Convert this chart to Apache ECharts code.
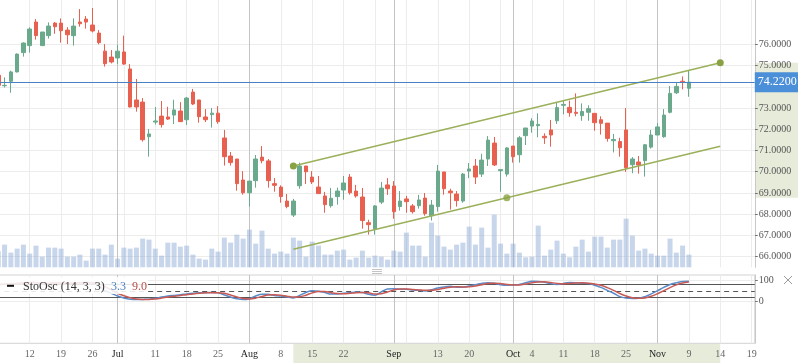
<!DOCTYPE html>
<html><head><meta charset="utf-8">
<script src="https://cdn.jsdelivr.net/npm/echarts@6/dist/echarts.min.js"></script>
<style>html,body{margin:0;padding:0;background:#fff}#c{width:798px;height:363px}</style>
</head><body><div id="c"></div>
<script>
// ---- data (trading-day slots; slot 0 = Monday "12") ----
const slotFirst = -5, slotLast = 115;
const open  = [74.54,74.05,74.26,74.70,75.61,75.94,77.05,75.94,76.41,77.00,77.00,76.67,76.41,77.05,77.19,76.91,76.53,75.68,75.40,75.36,75.64,74.84,73.38,73.28,71.65,72.34,72.62,72.58,72.67,72.86,72.45,73.75,73.38,72.58,72.69,72.76,71.59,70.74,70.60,69.61,69.01,69.58,70.69,70.51,69.44,69.28,68.62,67.96,69.34,70.27,69.75,69.28,68.86,68.40,68.83,69.14,69.75,69.09,68.81,67.60,67.30,68.57,69.38,69.33,68.36,68.72,68.39,68.40,68.76,67.93,68.36,69.99,69.09,68.95,68.62,70.03,70.27,69.89,70.60,71.35,70.05,69.89,71.21,70.80,71.70,72.15,72.17,71.67,71.97,72.40,73.13,73.03,72.80,72.64,72.80,72.75,72.45,72.29,71.46,71.42,71.97,70.33,70.46,70.52,71.16,71.73,71.65,72.80,73.72,74.26,73.93];
const close = [74.07,74.07,74.70,75.54,76.06,76.72,76.41,76.58,76.86,76.83,76.64,76.45,76.86,76.97,77.05,76.63,76.08,75.09,75.17,75.68,75.07,73.05,73.05,71.51,71.78,72.39,72.22,72.48,72.91,72.36,73.47,73.19,72.59,72.45,72.76,72.36,70.71,70.43,69.44,69.01,69.56,70.60,70.52,69.58,69.36,68.83,68.36,68.62,70.27,70.00,69.52,68.97,68.45,68.75,69.09,69.47,69.01,68.86,67.70,67.51,68.39,69.23,69.20,68.12,68.62,68.59,68.12,68.67,68.03,68.43,70.03,69.20,69.01,68.64,69.89,70.13,69.75,70.55,71.49,70.32,70.10,71.12,70.71,71.60,72.06,72.39,72.23,71.60,71.73,73.02,73.17,72.78,72.75,72.84,72.97,72.31,72.28,71.57,71.52,71.13,70.19,70.60,70.32,71.27,71.73,72.11,72.67,73.69,74.02,74.21,74.22];
const low   = [74.00,73.97,73.72,74.68,75.42,75.61,76.22,75.94,76.27,76.50,76.08,76.01,75.94,76.83,76.74,76.56,76.00,74.95,75.10,75.07,75.04,73.03,72.83,71.42,70.71,72.22,72.08,72.44,72.25,72.34,72.20,73.14,72.31,72.34,72.08,72.26,70.29,70.29,69.11,68.92,68.36,69.25,70.40,69.25,69.06,68.54,68.28,67.87,69.20,69.42,69.42,68.97,68.07,68.31,68.45,68.68,68.92,68.78,67.32,67.04,67.04,68.48,68.91,67.79,68.17,68.07,68.03,68.26,67.93,67.70,68.12,68.92,68.22,68.36,68.54,69.70,69.42,69.75,70.27,70.27,69.06,69.77,70.43,70.43,71.26,71.84,71.62,71.31,71.18,72.25,72.70,72.59,72.61,72.40,72.40,71.93,71.75,71.42,70.91,70.71,69.99,69.93,69.91,69.77,71.09,71.73,71.60,72.75,73.66,73.88,73.53];
const high  = [74.60,74.44,74.76,75.57,76.09,76.80,77.19,76.58,77.03,77.05,77.22,76.81,77.22,77.66,77.33,77.71,76.67,76.01,75.73,75.97,76.41,75.07,74.37,73.47,72.01,73.05,73.33,73.06,73.39,73.28,73.52,73.90,73.38,72.95,73.00,73.09,71.97,70.93,70.60,70.03,69.56,70.79,71.21,70.60,69.70,69.36,68.95,68.72,70.43,70.27,70.03,69.80,69.05,69.24,69.25,69.80,69.89,69.38,69.24,67.74,68.43,69.52,69.70,69.56,69.09,68.86,68.48,68.91,69.00,68.67,70.32,69.99,69.20,69.09,69.94,70.41,70.60,70.85,71.68,71.64,70.13,71.16,71.21,71.68,72.06,72.52,72.75,71.81,72.44,73.28,73.35,73.35,73.69,73.22,73.13,72.75,72.61,72.29,71.78,71.60,73.00,70.69,70.74,71.31,71.97,72.29,72.95,74.04,74.18,74.49,74.76];
const volume = [48,68,44,56,68,41,65,32,59,59,56,32,32,38,20,56,56,38,68,26,59,56,59,86,83,56,35,74,74,62,65,38,26,23,56,47,89,74,98,86,113,71,110,56,41,47,41,89,80,32,77,65,38,38,50,53,23,29,50,29,35,32,23,50,47,104,65,65,32,134,95,62,53,68,74,122,68,119,59,158,71,41,71,44,30,32,125,35,53,80,41,30,62,83,47,92,92,59,83,83,146,95,50,56,41,35,35,86,44,65,38];
const stochK = [80,82,84,86,88,90,88,84,86,88,87,85,86,89,90,86,75,50,38,25,16,10,8,9,10,14,20,25,28,31,35,38,40,41,42,41,30,20,12,8,12,25,33,33,28,25,20,16,28,42,50,48,42,34,35,38,41,44,42,33,29,45,58,60,57,57,54,52,49,55,63,68,71,67,67,73,79,85,88,86,79,76,78,80,88,95,94,90,84,80,85,89,88,86,85,76,66,52,38,22,15,13,14,22,35,50,66,80,88,94,95];
const stochD = [78,80,82,84,86,88,89,86,85,86,87,86,86,87,88,88,84,70,54,38,26,17,11,9,9,11,15,20,24,28,31,35,38,40,41,41,38,30,21,13,11,15,23,30,31,29,24,20,21,29,40,47,47,41,37,36,38,41,42,40,35,36,44,54,58,58,56,54,52,52,56,62,67,69,68,69,73,79,84,86,84,80,78,78,82,88,92,93,89,85,83,85,87,88,86,82,76,65,52,37,25,17,14,16,24,36,50,65,78,87,92];
const stochLegend = ['StoOsc (14, 3, 3)', '3.3', '9.0'];
const tickSlots  = [0,5,10,14,20,25,30,35,40,45,50,58,65,70,77,80,85,90,95,100,105,110,115];
const tickLabels = ['12','19','26','Jul','11','18','25','Aug','8','15','22','Sep','13','20','Oct','4','11','18','25','Nov','9','14','19'];
const monthNames = ['Jul','Aug','Sep','Oct','Nov'];
const extraTickSlots = [55];
const weekSlots  = [0,5,10,15,20,25,30,35,40,45,50,55,60,65,70,75,80,85,90,95,100,105,110,115];
const monthSlots = [14,35,58,77,100];
const priceTicks = [66,67,68,69,70,71,72,73,74,75,76];
const priceLabelTicks = [66,67,68,69,70,71,72,73,75,76];
const stochTicks = [0,100];
const stochLevels = [80,20];
const stochMid = 50;
const channelSlots = [42,110];
const channelUpper = [70.27,75.13];
const channelLower = [66.35,71.20];
const channelAnchor = [76,68.78];
const lastPrice = 74.22;

// ---- build ----
const cats = [];
for (let s = slotFirst; s <= slotLast; s++) cats.push(String(s));
const ci = s => s - slotFirst;
const labelMap = new Map(tickSlots.map((s,i)=>[String(s), tickLabels[i]]));
const tickSet = new Set(tickSlots.concat(extraTickSlots).map(String));
const candles = open.map((o,i)=>[o, close[i], low[i], high[i]]);

const GREEN = '#6aa98c', RED = '#e8604f', OLIVE = '#9bb05a', DOT = '#8aa244';
const SERIF = '"Liberation Serif", "DejaVu Serif", serif';
const WEEK_C = '#ececec', MONTH_C = '#c4c4c4';

const mainGrid = [].concat(
  priceTicks.map(v => ({yAxis: v, lineStyle: {color: WEEK_C, width: 1, type: 'solid'}})),
  weekSlots.map(s => ({xAxis: ci(s), lineStyle: {color: WEEK_C, width: 1, type: 'solid'}})),
  monthSlots.map(s => ({xAxis: ci(s), lineStyle: {color: MONTH_C, width: 1, type: 'solid'}}))
);
const stochGrid = [].concat(
  stochTicks.map(v => ({yAxis: v, lineStyle: {color: WEEK_C, width: 1, type: 'solid'}})),
  weekSlots.map(s => ({xAxis: ci(s), lineStyle: {color: WEEK_C, width: 1, type: 'solid'}})),
  monthSlots.map(s => ({xAxis: ci(s), lineStyle: {color: MONTH_C, width: 1, type: 'solid'}})),
  stochLevels.map(v => ({yAxis: v, lineStyle: {color: '#555', width: 1, type: 'solid'}})),
  [{yAxis: stochMid, lineStyle: {color: '#555', width: 1, type: [5,4]}}]
);

const chart = echarts.init(document.getElementById('c'), null, {renderer: 'canvas', width: 798, height: 363});
const GL = -4.83, GR = 43.2;
chart.setOption({
  animation: false,
  backgroundColor: '#fff',
  grid: [
    {left: GL, right: GR, top: 0, height: 267.3, containLabel: false, outerBoundsMode: 'none'},
    {left: GL, right: GR, top: 275, height: 68.3, containLabel: false, outerBoundsMode: 'none',
     show: true, borderColor: '#d2d2d2', borderWidth: 1, backgroundColor: 'rgba(0,0,0,0)'}
  ],
  xAxis: [
    {type: 'category', gridIndex: 0, data: cats, boundaryGap: true, show: false},
    {type: 'category', gridIndex: 1, data: cats, boundaryGap: true,
     axisLine: {show: true, lineStyle: {color: '#c8c8c8'}},
     axisTick: {show: true, alignWithLabel: true, length: 3, interval: (i, v) => tickSet.has(String(v)), lineStyle: {color: '#c8c8c8'}},
     axisLabel: {show: true, margin: 6, interval: (i, v) => labelMap.has(String(v)),
       formatter: v => { const t = labelMap.get(String(v)) || ''; return monthNames.includes(t) ? '{m|' + t + '}' : '{n|' + t + '}'; },
       rich: {m: {color: '#222', fontSize: 10, fontFamily: SERIF}, n: {color: '#666', fontSize: 10, fontFamily: SERIF}}},
     splitLine: {show: false}}
  ],
  yAxis: [
    {type: 'value', gridIndex: 0, position: 'right', min: 65.5, max: 78.088, minInterval: 1, maxInterval: 1, scale: true,
     axisLine: {show: true, lineStyle: {color: '#c8c8c8'}},
     axisTick: {show: true, length: 3, customValues: priceTicks, lineStyle: {color: '#777'}},
     axisLabel: {show: true, margin: 4, customValues: priceLabelTicks, color: '#555', fontSize: 10, fontFamily: SERIF,
       formatter: v => priceLabelTicks.includes(v) ? v.toFixed(4) : ''},
     splitLine: {show: false}},
    {type: 'value', gridIndex: 0, min: 0, max: 802, show: false, splitLine: {show: false}},
    {type: 'value', gridIndex: 1, position: 'right', min: -200, max: 125, interval: 100,
     axisLine: {show: true, lineStyle: {color: '#c8c8c8'}},
     axisTick: {show: true, length: 3, customValues: stochTicks, lineStyle: {color: '#777'}},
     axisLabel: {show: true, margin: 4, customValues: stochTicks, color: '#555', fontSize: 10, fontFamily: SERIF,
       formatter: v => stochTicks.includes(v) ? String(v) : ''},
     splitLine: {show: false}}
  ],
  series: [
    {type: 'bar', name: 'Volume', xAxisIndex: 0, yAxisIndex: 1, data: volume, barWidth: 5, z: 1,
     itemStyle: {color: 'rgba(140,170,215,0.48)'}, silent: true},
    {type: 'candlestick', name: 'Price', xAxisIndex: 0, yAxisIndex: 0, data: candles, barWidth: 4, z: 3,
     itemStyle: {color: GREEN, color0: RED, borderColor: GREEN, borderColor0: RED, borderWidth: 1},
     markLine: {silent: true, z: 1, symbol: ['none','none'], label: {show: false}, animation: false, data: mainGrid}},
    {type: 'line', name: 'ChannelUpper', xAxisIndex: 0, yAxisIndex: 0, z: 5,
     data: channelSlots.map((s,i)=>[ci(s), channelUpper[i]]),
     symbol: 'circle', symbolSize: 7, showSymbol: true, showAllSymbol: true, itemStyle: {color: DOT},
     lineStyle: {color: OLIVE, width: 1.5},
     markLine: {silent: true, z: 6, symbol: ['none','none'], animation: false,
       data: [{yAxis: lastPrice, lineStyle: {color: '#4a80c4', width: 1, type: 'solid'},
         label: {show: true, position: 'end', distance: 0, formatter: () => lastPrice.toFixed(4),
           backgroundColor: '#4a8fd8', color: '#fff', fontSize: 12, fontFamily: SERIF, padding: [4,3,4,3]}}]}},
    {type: 'line', name: 'ChannelLower', xAxisIndex: 0, yAxisIndex: 0, z: 5,
     data: channelSlots.map((s,i)=>[ci(s), channelLower[i]]),
     symbol: 'none', lineStyle: {color: OLIVE, width: 1.5}},
    {type: 'scatter', name: 'ChannelAnchor', xAxisIndex: 0, yAxisIndex: 0, z: 6,
     data: [[ci(channelAnchor[0]), channelAnchor[1]]], symbolSize: 7, itemStyle: {color: DOT}},
    {type: 'line', name: '%K', xAxisIndex: 1, yAxisIndex: 2, data: stochK, smooth: 0.35, symbol: 'none', z: 3,
     lineStyle: {color: '#5b8bc8', width: 1.5},
     markLine: {silent: true, z: 1, symbol: ['none','none'], label: {show: false}, animation: false, data: stochGrid}},
    {type: 'line', name: '%D', xAxisIndex: 1, yAxisIndex: 2, data: stochD, smooth: 0.35, symbol: 'none', z: 3,
     lineStyle: {color: '#c85a55', width: 1.5}}
  ]
});

// decorations derived through the library's scales
const px = i => chart.convertToPixel({xAxisIndex: 0}, i);
const py = v => chart.convertToPixel({yAxisIndex: 0}, v);
const xA = px(ci(channelSlots[0])), xB = px(ci(channelSlots[1]));
const yTop = py(Math.max(channelUpper[1], channelUpper[0])), yBot = py(channelAnchor[1]);
const rightEdge = 798 - GR;
chart.setOption({
  graphic: [
    {type: 'rect', z: -1, shape: {x: xA, y: 343.8, width: xB - xA, height: 20}, style: {fill: '#e6ebda'}},
    {type: 'rect', z: -1, shape: {x: rightEdge + 0.6, y: yTop, width: 798 - rightEdge, height: yBot - yTop}, style: {fill: '#e6ebda'}},
    {type: 'rect', z: 10, shape: {x: 0, y: 277, width: 148, height: 17}, style: {fill: 'rgba(255,255,255,0.86)'}},
    {type: 'rect', z: 11, shape: {x: 7, y: 284.8, width: 7, height: 2}, style: {fill: '#111'}},
    {type: 'text', z: 11, style: {text: stochLegend[0], x: 23, y: 287, fill: '#333', font: '12px ' + SERIF, verticalAlign: 'middle', textVerticalAlign: 'middle'}},
    {type: 'text', z: 11, style: {text: stochLegend[1], x: 111, y: 287, fill: '#4a7ebb', font: '12px ' + SERIF, verticalAlign: 'middle', textVerticalAlign: 'middle'}},
    {type: 'text', z: 11, style: {text: stochLegend[2], x: 132, y: 287, fill: '#b94a48', font: '12px ' + SERIF, verticalAlign: 'middle', textVerticalAlign: 'middle'}},
    {type: 'line', z: 11, shape: {x1: 372, y1: 269.5, x2: 382, y2: 269.5}, style: {stroke: '#c4c4c4', lineWidth: 1}},
    {type: 'line', z: 11, shape: {x1: 372, y1: 271.5, x2: 382, y2: 271.5}, style: {stroke: '#c4c4c4', lineWidth: 1}},
    {type: 'line', z: 11, shape: {x1: 372, y1: 273.5, x2: 382, y2: 273.5}, style: {stroke: '#c4c4c4', lineWidth: 1}},
    {type: 'line', z: 11, shape: {x1: 784, y1: 276, x2: 792, y2: 284}, style: {stroke: '#999', lineWidth: 1}},
    {type: 'line', z: 11, shape: {x1: 792, y1: 276, x2: 784, y2: 284}, style: {stroke: '#999', lineWidth: 1}}
  ]
});
</script></body></html>
